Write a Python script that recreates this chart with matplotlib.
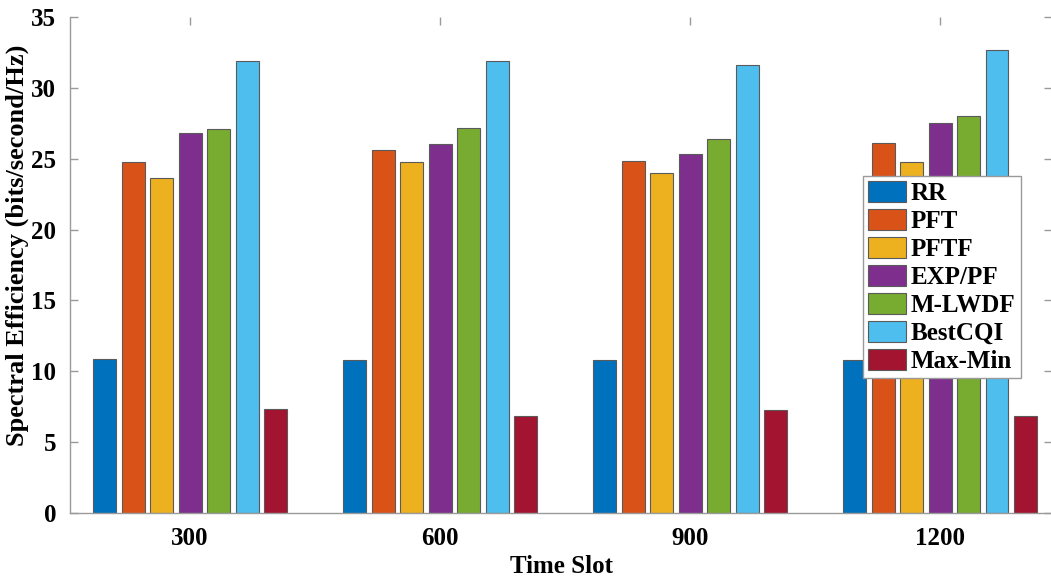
import numpy as np
import matplotlib
matplotlib.use("Agg")
import matplotlib.pyplot as plt

# Spectral efficiency per scheduler at each simulated time slot
time_slots = ["300", "600", "900", "1200"]
schedulers = ["RR", "PFT", "PFTF", "EXP/PF", "M-LWDF", "BestCQI", "Max-Min"]

rr = [10.88, 10.83, 10.83, 10.79]
pft = [24.75, 25.62, 24.87, 26.09]
pftf = [23.62, 24.80, 23.97, 24.75]
exp_pf = [26.80, 26.04, 25.33, 27.50]
m_lwdf = [27.08, 27.17, 26.37, 28.02]
best_cqi = [31.87, 31.92, 31.60, 32.68]
max_min = [7.33, 6.81, 7.26, 6.83]

series = [rr, pft, pftf, exp_pf, m_lwdf, best_cqi, max_min]
colors = ["#0072BD", "#D95319", "#EDB120", "#7E2F8E", "#77AC30", "#4DBEEE", "#A2142F"]

plt.rcParams["font.family"] = ["Liberation Serif", "DejaVu Serif"]
plt.rcParams["font.weight"] = "bold"

fig = plt.figure(figsize=(10.51, 5.78), dpi=100)
ax = fig.add_axes([70 / 1051, 65 / 578, 982 / 1051, 496 / 578])

x = np.arange(1, len(time_slots) + 1)
n = len(series)
step = 0.114
width = 0.092
for i, (vals, col, name) in enumerate(zip(series, colors, schedulers)):
    offs = (i - (n - 1) / 2) * step
    ax.bar(x + offs, vals, width=width, color=col, edgecolor="#5a5a5a",
           linewidth=0.8, label=name, zorder=2)

ax.set_xlim(0.52, 4.448)
ax.set_ylim(0, 35)
ax.set_xticks(x)
ax.set_xticklabels(time_slots)
ax.set_yticks(np.arange(0, 36, 5))

axis_gray = "#9a9a9a"
for s in ax.spines.values():
    s.set_color(axis_gray)
    s.set_linewidth(1.0)
ax.spines["top"].set_visible(False)
ax.spines["right"].set_visible(False)
ax.tick_params(direction="in", length=6, width=1.0, color=axis_gray,
               top=True, right=True, labelsize=18, pad=10)
for lab in ax.get_xticklabels() + ax.get_yticklabels():
    lab.set_fontweight("bold")

ax.set_xlabel("Time Slot", fontsize=18, fontweight="bold", labelpad=4)
ax.set_ylabel("Spectral Efficiency (bits/second/Hz)", fontsize=19,
              fontweight="bold")
ax.yaxis.set_label_coords(-0.042, 0.54)

leg = ax.legend(loc="upper right", bbox_to_anchor=(0.968, 0.679),
                prop={"weight": "bold", "size": 18},
                frameon=True, fancybox=False, framealpha=1,
                edgecolor=axis_gray, labelspacing=0.16, handlelength=1.5,
                handleheight=0.9, handletextpad=0.2, borderpad=0.2,
                borderaxespad=0.0)
leg.get_frame().set_linewidth(1.0)

fig.savefig("out.png", dpi=100)
